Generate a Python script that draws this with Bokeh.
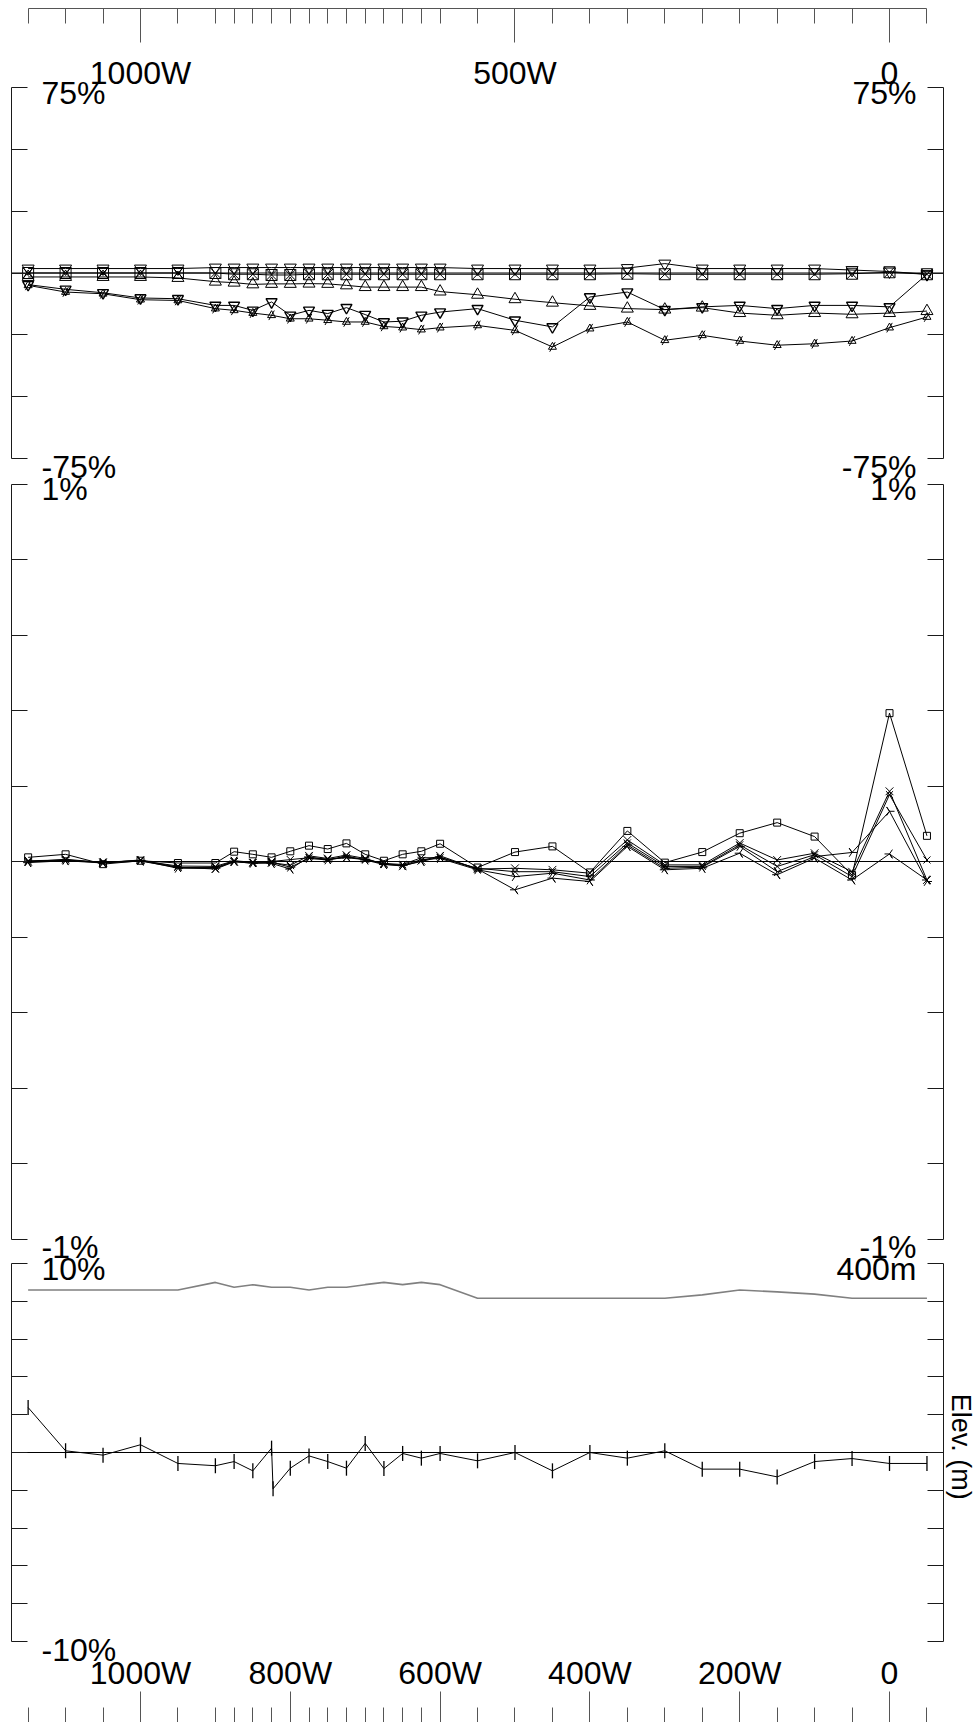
import math

from bokeh.plotting import figure
from bokeh.models import Range1d, LinearAxis, FixedTicker, CustomJSTickFormatter
from bokeh.core.properties import value
from bokeh.embed import file_html
from bokeh.resources import INLINE

# ---------------------------------------------------------------- data
# station positions along the line, metres west of 0 (negative = east)
stations = [1150, 1100, 1050, 1000, 950, 900, 875, 850, 825, 800, 775, 750,
            725, 700, 675, 650, 625, 600, 550, 500, 450, 400, 350, 300, 250,
            200, 150, 100, 50, 0, -50]

top_ruler_ticks = [1000, 500, 0]
bottom_ruler_ticks = [1000, 800, 600, 400, 200, 0]

# upper panel, percent
upper_inv = [1.8, 1.8, 1.8, 1.8, 1.8, 2.2, 2.2, 2.2, 2.2, 2.2, 2.2, 2.2, 2.2,
             2.2, 2.2, 2.2, 2.2, 2.2, 1.8, 1.8, 1.8, 1.8, 2.0, 3.8, 1.8, 1.8,
             1.8, 1.8, 1.2, 0.6, -0.5]
upper_sq = [0.0, 0.0, 0.0, 0.0, 0.0, 0.0, -0.5, -0.5, -0.8, -0.8, -0.5, -0.5,
            -0.5, -0.5, -0.5, -0.5, -0.5, -0.5, -0.5, -0.5, -0.5, -0.5, -0.3,
            -0.5, -0.5, -0.5, -0.5, -0.5, -0.3, 0.3, -0.5]
upper_tri = [-1.6, -1.6, -1.6, -1.6, -2.0, -3.5, -3.9, -4.6, -4.4, -4.4, -4.3,
             -4.4, -5.0, -5.7, -5.7, -5.7, -5.7, -7.5, -8.8, -10.6, -12.0,
             -13.3, -14.4, -14.8, -14.0, -16.2, -17.1, -16.2, -16.7, -16.2,
             -15.4]
upper_z = [-4.7, -6.6, -8.0, -10.1, -10.4, -13.1, -13.1, -15.1, -11.7, -17.1,
           -15.1, -16.4, -14.0, -16.8, -19.8, -19.5, -17.1, -15.8, -14.4,
           -19.1, -21.8, -9.7, -7.7, -14.8, -13.7, -13.1, -14.4, -13.1, -13.1,
           -13.7, -0.5]
upper_low = [-5.0, -7.7, -8.4, -10.8, -11.1, -14.4, -15.1, -16.2, -17.1,
             -18.5, -18.5, -19.1, -19.8, -19.8, -21.6, -22.1, -22.9, -22.1,
             -21.2, -23.2, -29.9, -22.5, -19.8, -27.2, -25.2, -27.5, -29.2,
             -28.6, -27.5, -22.1, -17.8]

# middle panel, percent
middle_sq = [0.011, 0.019, -0.007, 0.002, -0.004, -0.004, 0.026, 0.019, 0.011,
             0.027, 0.042, 0.033, 0.048, 0.019, 0.002, 0.019, 0.027, 0.047,
             -0.016, 0.025, 0.040, -0.029, 0.081, -0.003, 0.025, 0.075, 0.103,
             0.066, -0.036, 0.393, 0.068]
middle_a = [-0.001, 0.006, -0.003, 0.004, -0.015, -0.020, -0.001, -0.004,
            -0.003, -0.010, 0.015, 0.008, 0.017, 0.008, -0.007, -0.012, 0.002,
            0.015, -0.020, -0.018, -0.022, -0.031, 0.057, -0.009, -0.009,
            0.049, 0.004, 0.022, -0.027, 0.186, -0.049]
middle_b = [0.002, 0.004, -0.002, 0.002, -0.012, -0.013, 0.002, -0.002, 0.000,
            0.005, 0.010, 0.006, 0.010, 0.005, -0.005, -0.008, 0.010, 0.010,
            -0.018, -0.027, -0.027, -0.040, 0.049, -0.013, -0.013, 0.044,
            -0.013, 0.018, -0.040, 0.177, 0.004]
middle_c = [0.000, 0.003, -0.003, 0.003, -0.018, -0.018, 0.000, -0.005, -0.002,
            -0.015, 0.008, 0.004, 0.012, 0.006, -0.006, -0.010, 0.005, 0.008,
            -0.022, -0.040, -0.031, -0.049, 0.044, -0.018, -0.015, 0.040,
            -0.027, 0.013, 0.024, 0.133, -0.053]
middle_d = [-0.003, 0.002, -0.004, 0.001, -0.016, -0.016, 0.001, -0.003,
            -0.005, -0.020, 0.012, 0.005, 0.014, 0.004, -0.008, -0.011, 0.000,
            0.012, -0.020, -0.075, -0.044, -0.053, 0.040, -0.022, -0.018,
            0.022, -0.035, 0.009, -0.049, 0.020, -0.049]

# lower panel, percent (825W was read twice)
lower_pos = [1150, 1100, 1050, 1000, 950, 900, 875, 850, 825, 823, 800, 775,
             750, 725, 700, 675, 650, 625, 600, 550, 500, 450, 400, 350, 300,
             250, 200, 150, 100, 50, 0, -50]
lower_val = [2.38, 0.09, -0.14, 0.41, -0.58, -0.70, -0.48, -0.97, 0.23, -1.92,
             -0.83, -0.18, -0.48, -0.83, 0.48, -0.85, -0.05, -0.30, -0.05,
             -0.44, 0.00, -0.97, 0.00, -0.30, 0.09, -0.88, -0.88, -1.29, -0.48,
             -0.32, -0.58, -0.58]

# station elevation, metres
elevation = [393.0, 393.0, 393.0, 393.0, 393.0, 395.0, 393.7, 394.4, 393.7,
             393.7, 393.0, 393.7, 393.7, 394.4, 395.0, 394.4, 395.0, 394.4,
             390.8, 390.8, 390.8, 390.8, 390.8, 390.8, 391.7, 393.0, 392.5,
             391.9, 390.8, 390.8, 390.8]

upper_ticks = [-75, -50, -25, 0, 25, 50, 75]
middle_ticks = [-1.0, -0.8, -0.6, -0.4, -0.2, 0.0, 0.2, 0.4, 0.6, 0.8, 1.0]
lower_ticks = [-10, -8, -6, -4, -2, 0, 2, 4, 6, 8, 10]
elev_ticks = [300, 310, 320, 330, 340, 350, 360, 370, 380, 390, 400]

# ---------------------------------------------------------------- layout
W, H = 975, 1722
F_LEFT, F_TOP, F_BOTTOM = 11, 8, 1722
X_START, X_END = 1172.2, -114.8      # frame spans left border to canvas edge
X_RIGHT_AXIS = -72.1                 # where the right-hand scales stand
FONT = "Liberation Sans"
INK = "#1a1a1a"


def panel_range(v_top, v_bot, px_top, px_bot):
    """Range over the whole frame that puts v_top/v_bot at the given rows."""
    per_px = (v_top - v_bot) / (px_bot - px_top)
    end = v_top + per_px * (px_top - F_TOP)
    start = v_bot - per_px * (F_BOTTOM - px_bot)
    return Range1d(start, end)


p = figure(width=W, height=H, x_range=Range1d(X_START, X_END),
           y_range=Range1d(0, 1), x_axis_type=None, y_axis_type=None,
           output_backend="svg", toolbar_location=None,
           min_border_left=F_LEFT, min_border_right=0,
           min_border_top=F_TOP, min_border_bottom=0)
p.outline_line_color = None
p.background_fill_color = "white"
p.border_fill_color = "white"

p.extra_y_ranges = {
    "upper": panel_range(75, -75, 87, 458),
    "middle": panel_range(1, -1, 483.5, 1238.5),
    "lower": panel_range(10, -10, 1263, 1641),
    "elev": panel_range(400, 300, 1263, 1641),
}

# ---------------------------------------------------------------- rulers
ruler_fmt = CustomJSTickFormatter(code="return tick == 0 ? '0' : tick + 'W'")

top_ruler = LinearAxis(
    ticker=FixedTicker(ticks=top_ruler_ticks, minor_ticks=stations),
    formatter=ruler_fmt, bounds=(-50, 1150),
    major_tick_in=34, major_tick_out=0, minor_tick_in=15, minor_tick_out=0,
    axis_line_color="#555555", major_tick_line_color="#555555",
    minor_tick_line_color="#555555",
    major_label_standoff=-82, major_label_text_font=FONT,
    major_label_text_font_size="32px", major_label_text_color="black")
p.add_layout(top_ruler, "above")

bottom_ruler = LinearAxis(
    ticker=FixedTicker(ticks=bottom_ruler_ticks, minor_ticks=stations),
    formatter=ruler_fmt, bounds=(-50, 1150),
    major_tick_in=31, major_tick_out=0, minor_tick_in=15, minor_tick_out=0,
    axis_line_color=None, major_tick_line_color="#555555",
    minor_tick_line_color="#555555",
    major_label_standoff=-68, major_label_text_font=FONT,
    major_label_text_font_size="32px", major_label_text_color="black")
p.add_layout(bottom_ruler, "below")


# ---------------------------------------------------------------- panel frames
def side_axis(range_name, ticks, **kw):
    return LinearAxis(y_range_name=range_name,
                      ticker=FixedTicker(ticks=ticks),
                      bounds=(min(ticks), max(ticks)),
                      major_tick_in=16, major_tick_out=0,
                      minor_tick_in=0, minor_tick_out=0,
                      major_label_text_color=None, major_label_standoff=0,
                      axis_line_color=INK, major_tick_line_color=INK, **kw)


for name, ticks in (("upper", upper_ticks), ("middle", middle_ticks),
                    ("lower", lower_ticks)):
    p.add_layout(side_axis(name, ticks), "left")
for name, ticks in (("upper", upper_ticks), ("middle", middle_ticks),
                    ("elev", elev_ticks)):
    p.add_layout(side_axis(name, ticks, fixed_location=X_RIGHT_AXIS), "right")

# zero lines, axis to axis
for name in ("upper", "middle", "lower"):
    p.segment(x0=[X_START], y0=[0], x1=[X_RIGHT_AXIS], y1=[0],
              y_range_name=name, line_color="black", line_width=1)

# title of the elevation scale, beside the lower panel
p.text(x=[X_RIGHT_AXIS], y=[351.5], text=["Elev. (m)"], angle=-math.pi / 2,
       x_offset=2, text_align="center", text_baseline="bottom",
       text_font=value(FONT), text_font_size="27px", text_color="black",
       y_range_name="elev")

# end-of-scale labels inside each panel
label_style = dict(text_font=value(FONT), text_font_size="32px",
                   text_color="black", text_baseline="middle")
scale_labels = [
    ("upper", 75, "75%", "75%", 5), ("upper", -75, "-75%", "-75%", 8),
    ("middle", 1, "1%", "1%", 5), ("middle", -1, "-1%", "-1%", 8),
    ("lower", 10, "10%", None, 5), ("lower", -10, "-10%", None, 8),
    ("elev", 400, None, "400m", 5),
]
for name, val, left_txt, right_txt, dy in scale_labels:
    if left_txt:
        p.text(x=[X_START], y=[val], text=[left_txt], x_offset=30, y_offset=dy,
               text_align="left", y_range_name=name, **label_style)
    if right_txt:
        p.text(x=[X_RIGHT_AXIS], y=[val], text=[right_txt], x_offset=-27,
               y_offset=dy, text_align="right", y_range_name=name,
               **label_style)

mk = dict(line_color="black", fill_color=None, line_width=1)
ln = dict(line_color="black", line_width=1)

# ---------------------------------------------------------------- upper panel
for series in (upper_sq, upper_inv, upper_tri, upper_z, upper_low):
    p.line(stations, series, y_range_name="upper", **ln)
p.scatter(stations, upper_sq, marker="square_x", size=11, y_range_name="upper", **mk)
p.scatter(stations, upper_inv, marker="inverted_triangle", size=12, y_range_name="upper", **mk)
p.scatter(stations, upper_tri, marker="triangle", size=12, y_range_name="upper", **mk)
p.scatter(stations, upper_z, marker="inverted_triangle", size=11, y_range_name="upper",
          line_color="black", fill_color=None, line_width=1.4)
p.scatter(stations, upper_low, marker="triangle", size=8, y_range_name="upper", **mk)
p.scatter(stations, upper_low, marker="dash", size=11, angle=1.05, y_range_name="upper", **mk)

# ---------------------------------------------------------------- middle panel
for series in (middle_sq, middle_a, middle_b, middle_c, middle_d):
    p.line(stations, series, y_range_name="middle", **ln)
p.scatter(stations, middle_sq, marker="square", size=7, y_range_name="middle", **mk)
p.scatter(stations, middle_a, marker="x", size=11, y_range_name="middle", **mk)
p.scatter(stations, middle_b, marker="x", size=10, y_range_name="middle", **mk)
p.scatter(stations, middle_c, marker="y", size=10, angle=math.pi / 2, y_range_name="middle", **mk)
p.scatter(stations, middle_d, marker="y", size=10, angle=-math.pi / 2, y_range_name="middle", **mk)

# ---------------------------------------------------------------- lower panel
p.line(stations, elevation, y_range_name="elev", line_color="#808080", line_width=1.6)
p.line(lower_pos, lower_val, y_range_name="lower", **ln)
p.scatter(lower_pos, lower_val, marker="dash", size=15, angle=math.pi / 2,
          y_range_name="lower", line_color="black", line_width=1.3)

open("out.html", "w").write(file_html(p, INLINE))
